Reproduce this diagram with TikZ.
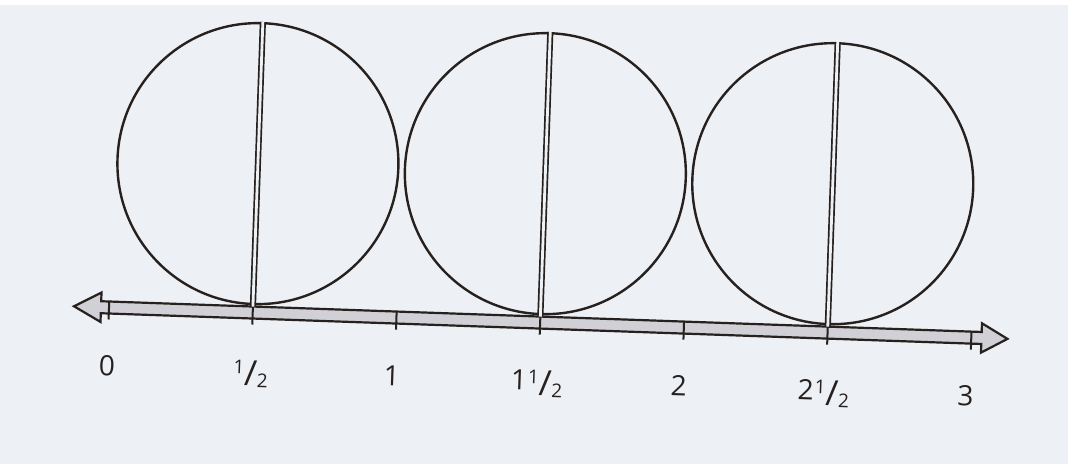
\documentclass[tikz,border=0pt]{standalone}
\usepackage{fontspec}
\setmainfont{Open Sans}
\definecolor{paper}{RGB}{237,240,244}
\definecolor{ink}{RGB}{38,33,30}
\definecolor{shaftfill}{RGB}{208,208,214}
\newcommand{\halfglyph}{\raisebox{6.4pt}{\fontsize{19}{19}\selectfont 1}\kern0pt\raisebox{-5pt}{\fontsize{35}{35}\selectfont /}\kern0pt\raisebox{-6.5pt}{\fontsize{19}{19}\selectfont 2}}
\begin{document}
\begin{tikzpicture}[x=1pt,y=1pt,
  disc/.style={circle, draw=ink, line width=2.4pt, minimum size=281pt, inner sep=0pt},
  halfline/.style={draw=ink, line width=1.7pt, double=paper, double distance=2.8pt},
  tickmark/.style={draw=ink, line width=2pt},
  lab/.style={anchor=base, font=\fontsize{28}{34}\selectfont, text=ink, inner sep=0pt}]
\fill[white] (0,0) rectangle (1068,-464);
\fill[paper] (0,-5) rectangle (1068,-464);
\useasboundingbox (0,0) rectangle (1068,-464);
\begin{scope}[shift={(109,-307.5)}, rotate=-2, transform shape]
  % number line (double-headed arrow)
  \coordinate (L) at (-35,0);
  \coordinate (R) at (899,0);
  \filldraw[fill=shaftfill, draw=ink, line width=2.2pt, line join=miter]
    (L) -- (-8,14.7) -- (-8,6) -- (873,6) -- (873,14.7) -- (R)
    -- (873,-14.7) -- (873,-6) -- (-8,-6) -- (-8,-14.7) -- cycle;
  % ticks
  \foreach \k in {0,...,6}{
    \coordinate (top\k) at ({143.8*\k},6);
    \coordinate (bot\k) at ({143.8*\k},-12);
    \draw[tickmark] (top\k) -- (bot\k);
  }
  % circles
  \node[disc] (c1) at (143.8,149) {};
  \node[disc] (c2) at (431.4,149) {};
  \node[disc] (c3) at (719.0,149) {};
  \draw[halfline] (c1.north) -- (top1);
  \draw[halfline] (c2.north) -- (top3);
  \draw[halfline] (c3.north) -- (top5);
  % labels
  \node[lab] (l0) at (0,-68) {0};
  \node[lab] (l1) at (144,-68) {\halfglyph};
  \node[lab] (l2) at (285,-68) {1};
  \node[lab] (l3) at (430,-68) {1\kern1pt\halfglyph};
  \node[lab] (l4) at (572,-68) {2};
  \node[lab] (l5) at (717,-68) {2\kern1pt\halfglyph};
  \node[lab] (l6) at (859,-68) {3};
\end{scope}
\end{tikzpicture}
\end{document}
